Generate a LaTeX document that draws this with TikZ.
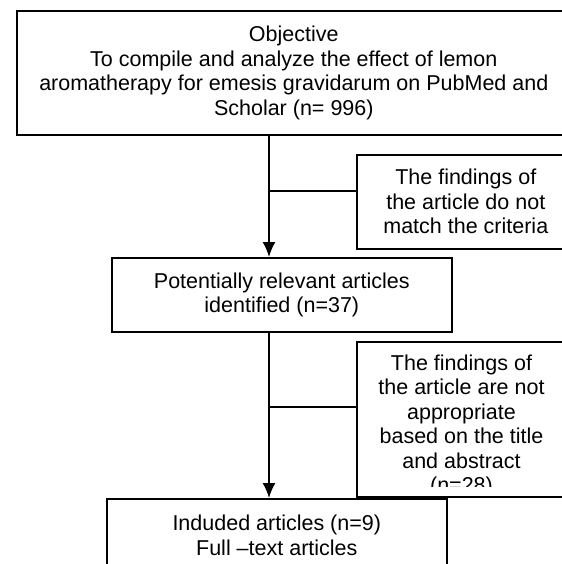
\documentclass[tikz,border=0pt]{standalone}
\usepackage{fontspec}
\setmainfont{Liberation Sans}
\usetikzlibrary{arrows.meta}

\begin{document}
\begin{tikzpicture}[x=0.5pt,y=-0.5pt,
  every node/.style={font=\fontsize{10.75}{12.25}\selectfont},
  flow/.style={draw,line width=0.8pt,-{Latex[length=7.5pt,width=6.5pt]}}]
\tikzstyle{box}=[draw,line width=0.8pt,rectangle,align=center,inner sep=0pt,anchor=north west]
\tikzstyle{branch}=[draw,line width=0.8pt]
\useasboundingbox (0,0) rectangle (562,564);
\clip (0,0) rectangle (562,564);

\node [box,minimum width=277pt,minimum height=62pt] (obj) at (16,10)
  {Objective\\To compile and analyze the effect of lemon\\aromatherapy for emesis gravidarum on PubMed and\\Scholar (n= 996)};
\node [box,minimum width=109pt,minimum height=47pt] (nomatch) at (356,154)
  {The findings of\\the article do not\\match the criteria};
\node [box,minimum width=170pt,minimum height=37pt] (relevant) at (111,257)
  {Potentially relevant articles\\identified (n=37)};
\node [box,minimum width=109pt,minimum height=77.5pt] (notfit) at (356,341) {};
\node [box,minimum width=170pt,minimum height=36.5pt] (included) at (106,498)
  {Induded articles (n=9)\\Full --text articles};

% text of the second side box is cut off at its lower edge
\begin{scope}
\clip (notfit.north west) rectangle (568,486);
\node [align=center,inner sep=0pt] (notfittext) at (461.5,426)
  {The findings of\\the article are not\\appropriate\\based on the title\\and abstract\\(n=28)};
\end{scope}

\coordinate (spine) at (269,0);
\coordinate (b1) at (269,191);
\coordinate (b2) at (269,407);

\draw [flow] (obj.south -| spine) -- (relevant.north -| spine);
\draw [branch] (b1) -- (b1 -| nomatch.west);
\draw [flow] (relevant.south -| spine) -- (included.north -| spine);
\draw [branch] (b2) -- (b2 -| notfit.west);

\end{tikzpicture}
\end{document}
